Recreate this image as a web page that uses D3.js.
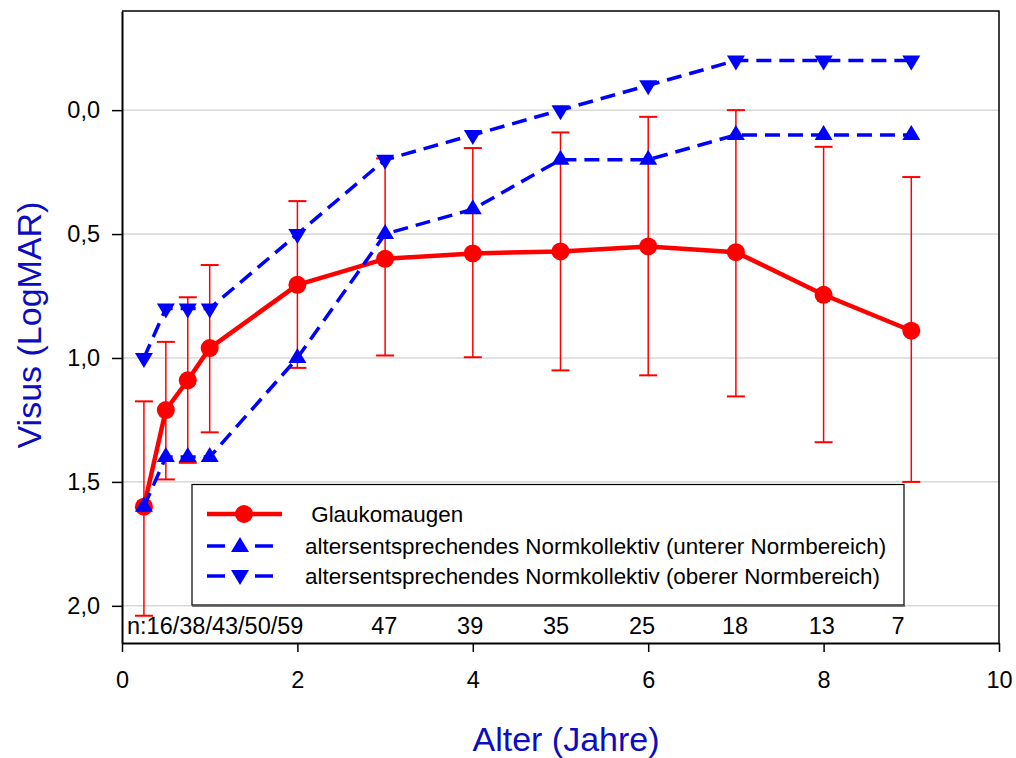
<!DOCTYPE html>
<html>
<head>
<meta charset="utf-8">
<script src="https://cdn.jsdelivr.net/npm/d3@7"></script>
<style>
  html, body { margin: 0; padding: 0; background: #fff; }
  svg { display: block; font-family: "Liberation Sans", Arial, sans-serif; }
</style>
</head>
<body>
<svg id="chart" width="1016" height="758"></svg>
<script>
// ---- Data ----
const ages = [0.25, 0.5, 0.75, 1, 2, 3, 4, 5, 6, 7, 8, 9];
const glaukomMean = [1.60, 1.21, 1.09, 0.96, 0.705, 0.60, 0.578, 0.57, 0.55, 0.573, 0.745, 0.89];
const glaukomUpper = [1.175, 0.935, 0.755, 0.625, 0.367, 0.195, 0.153, 0.09, 0.027, 0.0, 0.148, 0.27];
const glaukomLower = [2.04, 1.49, 1.423, 1.30, 1.04, 0.99, 0.997, 1.05, 1.07, 1.155, 1.34, 1.50];
const normUnterer = [1.6, 1.4, 1.4, 1.4, 1.0, 0.5, 0.4, 0.2, 0.2, 0.1, 0.1, 0.1];
const normOberer = [1.0, 0.8, 0.8, 0.8, 0.5, 0.2, 0.1, 0.0, -0.1, -0.2, -0.2, -0.2];
const nFirstLabel = "n:16/38/43/50/59";
const nLabels = ["47", "39", "35", "25", "18", "13", "7"];
const nLabelAges = [2.99, 3.97, 4.95, 5.93, 6.99, 7.98, 8.85];
const xTicks = [0, 2, 4, 6, 8, 10];
const yTicks = [0, 0.5, 1, 1.5, 2];
const legendLabels = [" Glaukomaugen",
  "altersentsprechendes Normkollektiv (unterer Normbereich)",
  "altersentsprechendes Normkollektiv (oberer Normbereich)"];
const xTitle = "Alter (Jahre)";
const yTitle = "Visus (LogMAR)";

// ---- Layout ----
const svg = d3.select("#chart");
const pL = 122, pR = 999, pT = 11, pB = 643;
const x = d3.scaleLinear().domain([0, 10]).range([pL, pR]);
const y = d3.scaleLinear().domain([-0.4, 2.15]).range([pT, pB]);
const RED = "#ff0000", BLUE = "#0000ff", TITLE = "#0c0cc0";

// gridlines
svg.append("g").selectAll("line").data(yTicks).join("line")
  .attr("x1", pL).attr("x2", pR)
  .attr("y1", d => y(d)).attr("y2", d => y(d))
  .attr("stroke", "#c4c4c4").attr("stroke-width", 1);

// frame top/right
svg.append("path")
  .attr("d", `M${pL},${pT}H${pR}V${pB}`)
  .attr("fill", "none").attr("stroke", "#000").attr("stroke-width", 1.5);

// axes
const fmt = d => d3.format(".1f")(d).replace(".", ",");
const yAxis = svg.append("g").attr("transform", `translate(${pL},0)`)
  .call(d3.axisLeft(y).tickValues(yTicks).tickFormat(fmt).tickSize(10).tickSizeOuter(0).tickPadding(12));
const xAxis = svg.append("g").attr("transform", `translate(0,${pB})`)
  .call(d3.axisBottom(x).tickValues(xTicks).tickFormat(d3.format("d")).tickSize(9).tickSizeOuter(0).tickPadding(19));
[yAxis, xAxis].forEach(g => {
  g.select(".domain").attr("stroke-width", 2);
  g.selectAll(".tick line").attr("stroke-width", 1.5);
  g.selectAll("text").attr("font-size", 23.5).attr("fill", "#000")
    .attr("font-family", "'Liberation Sans', Arial, sans-serif");
});

// n labels
svg.append("text").attr("x", x(0) + 5).attr("y", 634)
  .attr("font-size", 23.5).text(nFirstLabel);
svg.append("g").selectAll("text").data(nLabels).join("text")
  .attr("x", (d, i) => x(nLabelAges[i])).attr("y", 634)
  .attr("text-anchor", "middle").attr("font-size", 23.5).text(d => d);

// legend box
const lg = svg.append("g");
lg.append("rect").attr("x", 192).attr("y", 484.5).attr("width", 712).attr("height", 120.5)
  .attr("fill", "#fff").attr("stroke", "#000").attr("stroke-width", 1.2);
lg.append("line").attr("x1", 192).attr("x2", 905).attr("y1", 606).attr("y2", 606)
  .attr("stroke", "#555").attr("stroke-width", 1.5);

// error bars
const eb = svg.append("g").attr("stroke", RED);
ages.forEach((a, i) => {
  eb.append("line").attr("x1", x(a)).attr("x2", x(a))
    .attr("y1", y(glaukomUpper[i])).attr("y2", y(glaukomLower[i])).attr("stroke-width", 1.5);
  [glaukomUpper[i], glaukomLower[i]].forEach(v => {
    eb.append("line").attr("x1", x(a) - 9).attr("x2", x(a) + 9)
      .attr("y1", y(v)).attr("y2", y(v)).attr("stroke-width", 2);
  });
});

// red line + circles
const line = d3.line().x(d => x(d[0])).y(d => y(d[1]));
svg.append("path").datum(ages.map((a, i) => [a, glaukomMean[i]]))
  .attr("d", line).attr("fill", "none").attr("stroke", RED).attr("stroke-width", 4.5)
  .attr("stroke-linejoin", "round");
svg.append("g").selectAll("circle").data(ages).join("circle")
  .attr("cx", d => x(d)).attr("cy", (d, i) => y(glaukomMean[i])).attr("r", 9).attr("fill", RED);

// blue dashed lines + triangles
const upTri = "M0,-10L9,5L-9,5Z";
const downTri = "M0,10L9,-5L-9,-5Z";
[[normOberer, downTri], [normUnterer, upTri]].forEach(([vals, shape]) => {
  svg.append("path").datum(ages.map((a, i) => [a, vals[i]]))
    .attr("d", line).attr("fill", "none").attr("stroke", BLUE).attr("stroke-width", 3.5)
    .attr("stroke-dasharray", "15,8");
  svg.append("g").selectAll("path").data(ages).join("path")
    .attr("d", shape).attr("fill", BLUE)
    .attr("transform", (d, i) => `translate(${x(d)},${y(vals[i])})`);
});

// legend content
const rows = [514, 546, 576];
lg.append("line").attr("x1", 207).attr("x2", 282).attr("y1", rows[0]).attr("y2", rows[0])
  .attr("stroke", RED).attr("stroke-width", 4.5);
lg.append("circle").attr("cx", 244).attr("cy", rows[0]).attr("r", 9).attr("fill", RED);
[[rows[1], upTri], [rows[2], downTri]].forEach(([ry, shape]) => {
  lg.append("line").attr("x1", 207).attr("x2", 273).attr("y1", ry).attr("y2", ry)
    .attr("stroke", BLUE).attr("stroke-width", 3.5).attr("stroke-dasharray", "18,30,18");
  lg.append("path").attr("d", shape).attr("fill", BLUE)
    .attr("transform", `translate(240,${ry + (shape === upTri ? 1 : -1)})`);
});
lg.selectAll("text.lt").data(legendLabels).join("text").attr("class", "lt")
  .attr("x", 305).attr("y", (d, i) => rows[i] + 8)
  .attr("font-size", 22.4).attr("xml:space", "preserve").style("white-space", "pre").text(d => d);

// titles
svg.append("text").attr("x", 566).attr("y", 751).attr("text-anchor", "middle")
  .attr("font-size", 34).attr("fill", TITLE).text(xTitle);
svg.append("text").attr("transform", "translate(41,325) rotate(-90)").attr("text-anchor", "middle")
  .attr("font-size", 34).attr("fill", TITLE).text(yTitle);
</script>
</body>
</html>
